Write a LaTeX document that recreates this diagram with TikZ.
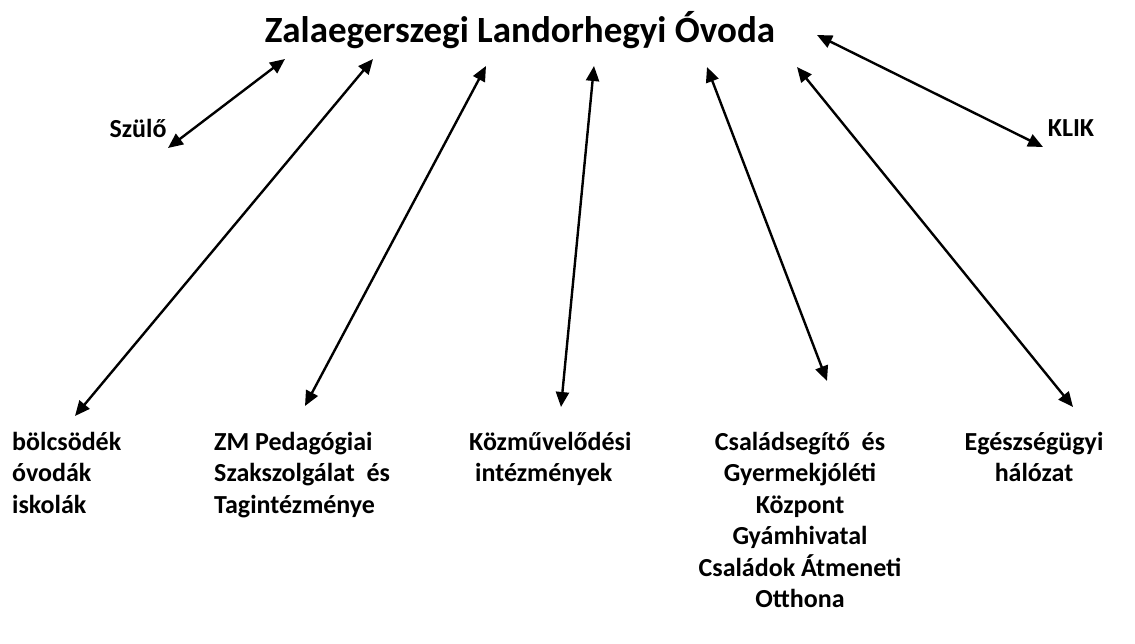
\documentclass[tikz,border=0pt]{standalone}
\usepackage{fontspec}
\setmainfont{Carlito}
\usepackage{tikz}
\usetikzlibrary{positioning,arrows.meta}

\tikzset{
    label text/.style={font=\bfseries\fontsize{26}{31.5}\selectfont, inner sep=0pt},
    title text/.style={font=\bfseries\fontsize{37}{40}\selectfont, inner sep=0pt},
    both/.style={{Triangle[length=15pt,width=13pt]}-{Triangle[length=15pt,width=13pt]}, line width=2.4pt},
}

\begin{document}
\begin{tikzpicture}[x=1pt,y=-1pt]

    \useasboundingbox (0,0) rectangle (1135,644);

    \node (ovoda) [title text] at (520,30) {Zalaegerszegi Landorhegyi Óvoda};
    \node (szulo) [label text] at (138,128) {Szülő};
    \node (klik) [label text] at (1071,128) {KLIK};

    \node (bolcs) [label text, align=left, anchor=north west] at (12,432) {bölcsödék\\óvodák\\iskolák};
    \node (zm) [label text, align=left, anchor=north west] at (214,432) {ZM Pedagógiai\\Szakszolgálat~ és\\Tagintézménye};
    \node (kozm) [label text, align=left, anchor=north west] at (469,432) {Közművelődési\\\hspace{0.23em}intézmények};
    \node (csal) [label text, align=center, anchor=north] at (800,432) {Családsegítő~ és\\Gyermekjóléti\\Központ\\Gyámhivatal\\Családok Átmeneti\\Otthona};
    \node (egesz) [label text, align=center, anchor=north] at (1034,432) {Egészségügyi\\hálózat};

    % arrow ends
    \coordinate (szulo a) at (168,148);  \coordinate (szulo b) at (285,59);
    \coordinate (bolcs a) at (75,416);   \coordinate (bolcs b) at (373,59);
    \coordinate (zm a) at (305,406);     \coordinate (zm b) at (486,66);
    \coordinate (kozm a) at (561,407);   \coordinate (kozm b) at (594,66);
    \coordinate (csal a) at (827,381);   \coordinate (csal b) at (707,67);
    \coordinate (egesz a) at (1073,407); \coordinate (egesz b) at (797,67);
    \coordinate (klik a) at (1043,147);  \coordinate (klik b) at (817,35);

    \draw[both] (szulo a) -- (szulo b);
    \draw[both] (bolcs a) -- (bolcs b);
    \draw[both] (zm a) -- (zm b);
    \draw[both] (kozm a) -- (kozm b);
    \draw[both] (csal a) -- (csal b);
    \draw[both] (egesz a) -- (egesz b);
    \draw[both] (klik a) -- (klik b);

\end{tikzpicture}
\end{document}
